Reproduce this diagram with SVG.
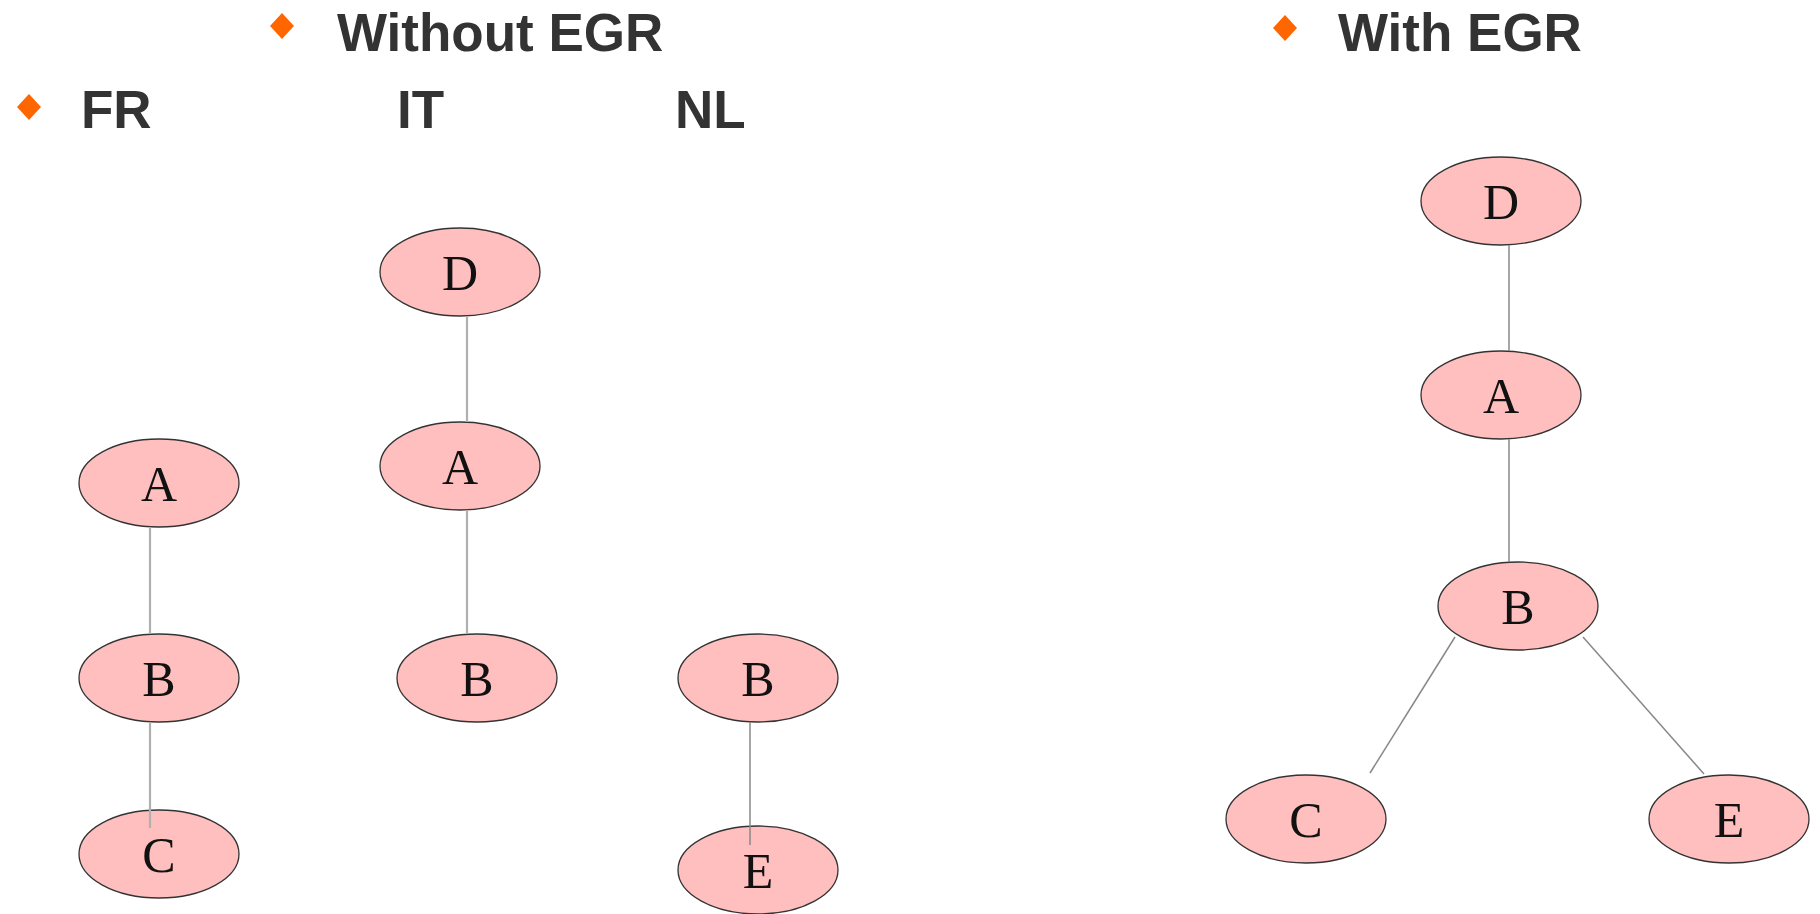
<svg xmlns="http://www.w3.org/2000/svg" width="1820" height="914" viewBox="0 0 1820 914">
<style>
.hd{font-family:"Liberation Sans",Arial,sans-serif;font-weight:bold;font-size:53px;fill:#333333}
.bul{fill:#ff6600}
.nd ellipse{fill:#ffbfbf;stroke:#333333;stroke-width:1.3}
.nd text{font-family:"Liberation Serif","Times New Roman",serif;font-size:50px;fill:#111111;text-anchor:middle}
.edge{stroke:#b0b0b0;stroke-width:2.2;fill:none}
.edge2{stroke:#888888;stroke-width:1.5;fill:none}
</style>
<rect width="1820" height="914" fill="#ffffff"/>
<g id="headers">
<path class="bul" d="M282,13 L294,26 L282,39 L270,26 Z"/>
<text class="hd" x="337" y="51">Without EGR</text>
<path class="bul" d="M1285,15 L1297,28 L1285,41 L1273,28 Z"/>
<text class="hd" x="1338" y="51">With EGR</text>
<path class="bul" d="M29,94 L41,107 L29,120 L17,107 Z"/>
<text class="hd" x="81" y="128">FR</text>
<text class="hd" x="397" y="128">IT</text>
<text class="hd" x="675" y="128">NL</text>
</g>
<g id="fr-A" class="nd"><ellipse cx="159" cy="483" rx="80" ry="44"/><text x="159" y="501">A</text></g>
<g id="fr-B" class="nd"><ellipse cx="159" cy="678" rx="80" ry="44"/><text x="159" y="696">B</text></g>
<g id="fr-C" class="nd"><ellipse cx="159" cy="854" rx="80" ry="44"/><text x="159" y="872">C</text></g>
<g id="it-D" class="nd"><ellipse cx="460" cy="272" rx="80" ry="44"/><text x="460" y="290">D</text></g>
<g id="it-A" class="nd"><ellipse cx="460" cy="466" rx="80" ry="44"/><text x="460" y="484">A</text></g>
<g id="it-B" class="nd"><ellipse cx="477" cy="678" rx="80" ry="44"/><text x="477" y="696">B</text></g>
<g id="nl-B" class="nd"><ellipse cx="758" cy="678" rx="80" ry="44"/><text x="758" y="696">B</text></g>
<g id="nl-E" class="nd"><ellipse cx="758" cy="870" rx="80" ry="44"/><text x="758" y="888">E</text></g>
<g id="egr-D" class="nd"><ellipse cx="1501" cy="201" rx="80" ry="44"/><text x="1501" y="219">D</text></g>
<g id="egr-A" class="nd"><ellipse cx="1501" cy="395" rx="80" ry="44"/><text x="1501" y="413">A</text></g>
<g id="egr-B" class="nd"><ellipse cx="1518" cy="606" rx="80" ry="44"/><text x="1518" y="624">B</text></g>
<g id="egr-C" class="nd"><ellipse cx="1306" cy="819" rx="80" ry="44"/><text x="1306" y="837">C</text></g>
<g id="egr-E" class="nd"><ellipse cx="1729" cy="819" rx="80" ry="44"/><text x="1729" y="837">E</text></g>
<g id="connectors">
<line class="edge" x1="150" y1="527" x2="150" y2="634"/>
<line class="edge" x1="150" y1="722" x2="150" y2="828"/>
<line class="edge" x1="467" y1="316" x2="467" y2="422"/>
<line class="edge" x1="467" y1="510" x2="467" y2="634"/>
<line class="edge2" x1="750" y1="722" x2="750" y2="845"/>
<line class="edge2" x1="1509" y1="245" x2="1509" y2="351"/>
<line class="edge2" x1="1509" y1="439" x2="1509" y2="562"/>
<line class="edge2" x1="1455" y1="637" x2="1370" y2="773"/>
<line class="edge2" x1="1583" y1="637" x2="1704" y2="774"/>
</g>
</svg>
